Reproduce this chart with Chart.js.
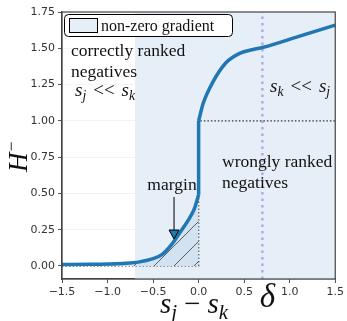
<!DOCTYPE html>
<html>
<head>
<meta charset="utf-8">
<script src="https://cdn.jsdelivr.net/npm/chart.js@4.4.1/dist/chart.umd.min.js"></script>
<style>
  html, body { margin: 0; padding: 0; background: #fff; }
  #wrap { width: 347px; height: 321px; }
</style>
</head>
<body>
<div id="wrap"><canvas id="chart" width="347" height="321"></canvas></div>
<script>
// curva H- (izquierda del salto y derecha del salto)
const leftX = [-1.5, -1.2, -1.0, -0.8, -0.65, -0.5, -0.4, -0.3, -0.2, -0.1, -0.05, 0.0];
const leftY = [0.01, 0.011, 0.013, 0.018, 0.028, 0.05, 0.08, 0.145, 0.235, 0.33, 0.39, 0.49];
const rightX = [0.0, 0.05, 0.15, 0.3, 0.45, 0.6, 0.7, 1.1, 1.5];
const rightY = [1.0, 1.12, 1.26, 1.4, 1.465, 1.492, 1.505, 1.582, 1.66];

// escalón (0 / 1) punteado
const stepX = [-1.5, 0.0, 0.0, 1.5];
const stepY = [0.0, 0.0, 1.0, 1.0];

const delta = 0.7;
const shadeFrom = -0.7;
const xTicks = [-1.5, -1.0, -0.5, 0.0, 0.5, 1.0, 1.5];
const yTicks = [0.0, 0.25, 0.5, 0.75, 1.0, 1.25, 1.5, 1.75];
const yMin = -0.09, yMax = 1.75;

const toPts = (xs, ys) => xs.map((x, i) => ({ x: x, y: ys[i] }));

const BLUE = "#1f77b4";
const SHADE = "#e6eef7";

// patrón rayado para la zona de margen
function hatchPattern() {
    const c = document.createElement("canvas");
    c.width = 20; c.height = 20;
    const g = c.getContext("2d");
    g.fillStyle = "#d3e2f0";
    g.fillRect(0, 0, 20, 20);
    g.strokeStyle = "rgba(40,40,40,0.8)";
    g.lineWidth = 0.9;
    g.beginPath();
    g.moveTo(0, 20); g.lineTo(20, 0);
    g.moveTo(-2, 2); g.lineTo(2, -2);
    g.moveTo(18, 22); g.lineTo(22, 18);
    g.stroke();
    return g.createPattern(c, "repeat");
}

const serif = "'Liberation Serif', 'DejaVu Serif', serif";

// textos, flecha, leyenda y marco
const overlay = {
    id: "overlay",
    afterDraw(chart) {
        const { ctx, chartArea: a, scales } = chart;
        const xs = scales.x;
        ctx.save();

        // marco
        ctx.strokeStyle = "#444";
        ctx.lineWidth = 1.2;
        ctx.strokeRect(a.left, a.top, a.right - a.left, a.bottom - a.top);

        // leyenda
        ctx.fillStyle = "#fff";
        ctx.strokeStyle = "#000";
        ctx.lineWidth = 1;
        ctx.beginPath();
        ctx.roundRect(64.5, 14.5, 168, 22, 4);
        ctx.fill(); ctx.stroke();
        ctx.fillStyle = SHADE;
        ctx.fillRect(69.5, 18.5, 28, 14);
        ctx.strokeRect(69.5, 18.5, 28, 14);
        ctx.fillStyle = "#111";
        ctx.font = "16px " + serif;
        ctx.textBaseline = "alphabetic";
        ctx.textAlign = "left";
        ctx.fillText("non-zero gradient", 101, 31);

        ctx.font = "17.5px " + serif;
        ctx.fillText("correctly ranked", 71, 56);
        ctx.fillText("negatives", 71, 77);
        ctx.fillText("wrongly ranked", 222, 167);
        ctx.fillText("negatives", 222, 188);

        // texto con subíndices
        function sub(parts, x, y, size) {
            let cx = x;
            parts.forEach(p => {
                cx += p.pre || 0;
                if (p.sub) {
                    ctx.font = "italic " + (size * 0.72) + "px " + serif;
                    ctx.fillText(p.t, cx, y + size * 0.22);
                } else {
                    ctx.font = (p.it ? "italic " : "") + size + "px " + serif;
                    ctx.fillText(p.t, cx, y);
                }
                cx += ctx.measureText(p.t).width + (p.post || 0);
            });
            return cx;
        }
        sub([{ t: "s", it: 1 }, { t: "j", sub: 1 }, { t: "<<", pre: 7, post: 7 }, { t: "s", it: 1 }, { t: "k", sub: 1 }], 75, 96, 19);
        sub([{ t: "s", it: 1 }, { t: "k", sub: 1 }, { t: "<<", pre: 7, post: 7 }, { t: "s", it: 1 }, { t: "j", sub: 1 }], 270, 92, 19);

        // margin + flecha
        ctx.font = "17.5px " + serif;
        ctx.textAlign = "center";
        ctx.fillText("margin", 172, 190);
        const ax = xs.getPixelForValue(-0.27);
        ctx.strokeStyle = "#000";
        ctx.lineWidth = 1;
        ctx.beginPath();
        ctx.moveTo(ax, 197);
        ctx.lineTo(ax, 232);
        ctx.stroke();
        ctx.fillStyle = BLUE;
        ctx.beginPath();
        ctx.moveTo(ax - 5, 230);
        ctx.lineTo(ax + 5, 230);
        ctx.lineTo(ax, 239);
        ctx.closePath();
        ctx.fill(); ctx.stroke();

        // etiquetas de ejes
        ctx.fillStyle = "#111";
        ctx.textAlign = "left";
        sub([{ t: "s", it: 1 }, { t: "j", sub: 1 }, { t: "−", pre: 7, post: 7 }, { t: "s", it: 1 }, { t: "k", sub: 1 }], 160, 313, 29);

        ctx.font = "italic 33px " + serif;
        ctx.textAlign = "center";
        ctx.fillText("δ", xs.getPixelForValue(delta) + 5, 307);

        ctx.translate(27, 162);
        ctx.rotate(-Math.PI / 2);
        ctx.textAlign = "left";
        ctx.font = "italic 27px " + serif;
        ctx.fillText("H", -10, 0);
        const w = ctx.measureText("H").width;
        ctx.font = "18px " + serif;
        ctx.fillText("−", -10 + w + 1, -10);
        ctx.restore();
    }
};

new Chart(document.getElementById("chart").getContext("2d"), {
    type: "line",
    data: {
        datasets: [
            {
                // zona de gradiente no nulo
                data: toPts([shadeFrom, 1.5], [yMax, yMax]),
                borderWidth: 0,
                pointRadius: 0,
                backgroundColor: SHADE,
                fill: "start",
                order: 10,
            },
            {
                data: toPts(stepX, stepY),
                borderColor: "#333",
                borderWidth: 1.3,
                borderDash: [1.5, 2],
                pointRadius: 0,
                fill: false,
                order: 5,
            },
            {
                data: toPts([delta, delta], [yMin, yMax]),
                borderColor: "rgba(150,125,215,0.6)",
                borderWidth: 2.5,
                borderDash: [2.5, 4],
                pointRadius: 0,
                fill: false,
                order: 6,
            },
            {
                data: toPts(leftX, leftY),
                borderColor: BLUE,
                borderWidth: 3.5,
                pointRadius: 0,
                cubicInterpolationMode: "monotone",
                backgroundColor: hatchPattern(),
                fill: "origin",
                order: 1,
            },
            {
                data: toPts([0, 0], [leftY[leftY.length - 1], rightY[0]]),
                borderColor: BLUE,
                borderWidth: 3.5,
                pointRadius: 0,
                fill: false,
                order: 1,
            },
            {
                data: toPts(rightX, rightY),
                borderColor: BLUE,
                borderWidth: 3.5,
                pointRadius: 0,
                cubicInterpolationMode: "monotone",
                fill: false,
                order: 1,
            },
        ],
    },
    options: {
        responsive: false,
        animation: false,
        layout: { padding: { top: 12, right: 9, left: 0, bottom: 0 } },
        plugins: {
            legend: { display: false },
            tooltip: { enabled: false },
        },
        scales: {
            x: {
                type: "linear",
                min: -1.5,
                max: 1.5,
                afterBuildTicks: (s) => { s.ticks = xTicks.map(v => ({ value: v })); },
                afterFit: (s) => { s.height = 42; },
                ticks: {
                    color: "#333",
                    padding: 3,
                    maxRotation: 0,
                    font: { family: "'DejaVu Sans'", size: 11 },
                    callback: (v) => (v < 0 ? "−" : "") + Math.abs(v).toFixed(1),
                },
                grid: { drawOnChartArea: false, tickColor: "#555", tickLength: 4 },
                border: { color: "#444", width: 1.2 },
            },
            y: {
                type: "linear",
                min: yMin,
                max: yMax,
                afterBuildTicks: (s) => { s.ticks = yTicks.map(v => ({ value: v })); },
                afterFit: (s) => { s.width = 62; },
                ticks: {
                    color: "#333",
                    padding: 3,
                    font: { family: "'DejaVu Sans'", size: 11 },
                    callback: (v) => v.toFixed(2),
                },
                grid: { color: "rgba(0,0,0,0.05)", tickColor: "#555", tickLength: 4 },
                border: { color: "#444", width: 1.2 },
            },
        },
    },
    plugins: [overlay],
});
</script>
</body>
</html>
